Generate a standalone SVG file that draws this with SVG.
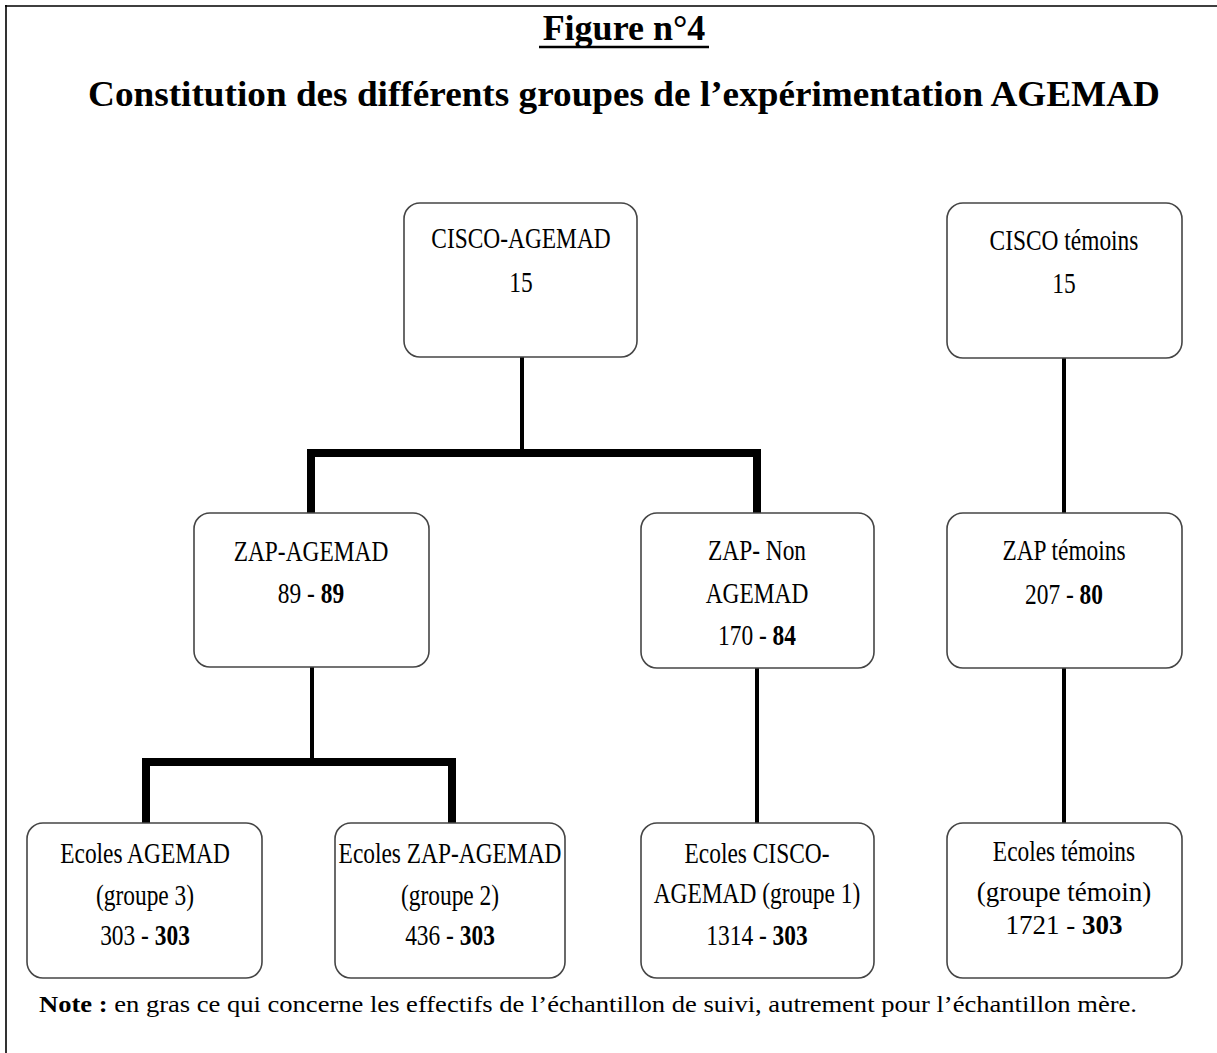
<svg xmlns="http://www.w3.org/2000/svg" width="1217" height="1053" viewBox="0 0 1217 1053">
<style>
.box{fill:#fff;stroke:#454545;stroke-width:1.6}
.t{font-family:"Liberation Serif","Times New Roman",serif;fill:#000;text-anchor:middle}
.c{font-size:30px}
.n{font-size:27px}
.b{font-weight:bold}
.thin{stroke:#000;stroke-width:4;fill:none}
.thick{stroke:#000;stroke-width:8;fill:none;stroke-linejoin:miter;stroke-linecap:square}
</style>
<rect width="1217" height="1053" fill="#fff"/>
<path d="M5,6 H1217 M6,5 V1053" stroke="#000" stroke-width="1.6" fill="none"/>
<g id="title">
<text class="t b" x="624" y="40" font-size="36">Figure n°4</text>
<line x1="539" y1="47" x2="709" y2="47" stroke="#000" stroke-width="2.5"/>
<text class="t b" x="624" y="106" font-size="36.5" textLength="1072" lengthAdjust="spacingAndGlyphs">Constitution des différents groupes de l’expérimentation AGEMAD</text>
</g>
<g id="connectors">
<line class="thin" x1="522" y1="357" x2="522" y2="453"/>
<path class="thick" d="M311,513 V453 H757 V513"/>
<line class="thin" x1="1064" y1="358" x2="1064" y2="513"/>
<line class="thin" x1="312" y1="667" x2="312" y2="762"/>
<path class="thick" d="M146,823 V762 H452 V823"/>
<line class="thin" x1="757" y1="668" x2="757" y2="824"/>
<line class="thin" x1="1064" y1="668" x2="1064" y2="824"/>
</g>
<g id="cisco-agemad">
<rect class="box" x="404" y="203" width="233" height="154" rx="16"/>
<g transform="translate(521,0) scale(0.78,1)"><text class="t c" x="0" y="248">CISCO-AGEMAD</text><text class="t c" x="0" y="292">15</text></g>
</g>
<g id="cisco-temoins">
<rect class="box" x="947" y="203" width="235" height="155" rx="16"/>
<g transform="translate(1064,0) scale(0.78,1)"><text class="t c" x="0" y="250">CISCO témoins</text><text class="t c" x="0" y="293">15</text></g>
</g>
<g id="zap-agemad">
<rect class="box" x="194" y="513" width="235" height="154" rx="16"/>
<g transform="translate(311,0) scale(0.78,1)"><text class="t c" x="0" y="561">ZAP-AGEMAD</text><text class="t c" x="0" y="603">89 - <tspan class="b">89</tspan></text></g>
</g>
<g id="zap-non-agemad">
<rect class="box" x="641" y="513" width="233" height="155" rx="16"/>
<g transform="translate(757,0) scale(0.78,1)"><text class="t c" x="0" y="560">ZAP- Non</text><text class="t c" x="0" y="603">AGEMAD</text><text class="t c" x="0" y="645">170 - <tspan class="b">84</tspan></text></g>
</g>
<g id="zap-temoins">
<rect class="box" x="947" y="513" width="235" height="155" rx="16"/>
<g transform="translate(1064,0) scale(0.78,1)"><text class="t c" x="0" y="560">ZAP témoins</text><text class="t c" x="0" y="604">207 - <tspan class="b">80</tspan></text></g>
</g>
<g id="ecoles-agemad">
<rect class="box" x="27" y="823" width="235" height="155" rx="16"/>
<g transform="translate(145,0) scale(0.78,1)"><text class="t c" x="0" y="863">Ecoles AGEMAD</text><text class="t c" x="0" y="905">(groupe 3)</text><text class="t c" x="0" y="945">303 - <tspan class="b">303</tspan></text></g>
</g>
<g id="ecoles-zap-agemad">
<rect class="box" x="335" y="823" width="230" height="155" rx="16"/>
<g transform="translate(450,0) scale(0.78,1)"><text class="t c" x="0" y="863">Ecoles ZAP-AGEMAD</text><text class="t c" x="0" y="905">(groupe 2)</text><text class="t c" x="0" y="945">436 - <tspan class="b">303</tspan></text></g>
</g>
<g id="ecoles-cisco-agemad">
<rect class="box" x="641" y="823" width="233" height="155" rx="16"/>
<g transform="translate(757,0) scale(0.78,1)"><text class="t c" x="0" y="863">Ecoles CISCO-</text><text class="t c" x="0" y="903">AGEMAD (groupe 1)</text><text class="t c" x="0" y="945">1314 - <tspan class="b">303</tspan></text></g>
</g>
<g id="ecoles-temoins">
<rect class="box" x="947" y="823" width="235" height="155" rx="16"/>
<g transform="translate(1064,0) scale(0.78,1)"><text class="t c" x="0" y="861">Ecoles témoins</text></g>
<text class="t n" x="1064" y="901">(groupe témoin)</text>
<text class="t n" x="1064" y="934">1721 - <tspan class="b">303</tspan></text>
</g>
<g id="note">
<text x="39" y="1012" font-family="'Liberation Serif','Times New Roman',serif" font-size="24" textLength="1098" lengthAdjust="spacingAndGlyphs"><tspan font-weight="bold">Note :</tspan> en gras ce qui concerne les effectifs de l’échantillon de suivi, autrement pour l’échantillon mère.</text>
</g>
</svg>
